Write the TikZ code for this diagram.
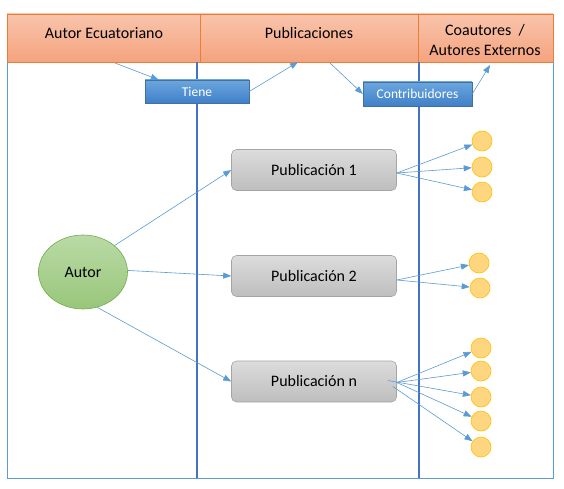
\documentclass[tikz,border=0pt]{standalone}
\usepackage{fontspec}
\setmainfont{Carlito}
\usetikzlibrary{arrows.meta,shapes.geometric,calc}
\definecolor{hdrTop}{RGB}{249,196,172}
\definecolor{hdrBot}{RGB}{244,163,126}
\definecolor{hdrLine}{RGB}{237,125,49}
\definecolor{laneLine}{RGB}{68,114,196}
\definecolor{frameLine}{RGB}{91,155,213}
\definecolor{arrowCol}{RGB}{91,155,213}
\definecolor{tagTop}{RGB}{107,166,222}
\definecolor{tagBot}{RGB}{64,128,200}
\definecolor{tagLine}{RGB}{65,113,156}
\definecolor{pubTop}{RGB}{220,220,220}
\definecolor{pubBot}{RGB}{190,190,190}
\definecolor{pubLine}{RGB}{165,165,165}
\definecolor{autTop}{RGB}{186,218,166}
\definecolor{autBot}{RGB}{152,198,122}
\definecolor{autLine}{RGB}{112,173,71}
\definecolor{circFill}{RGB}{255,214,128}
\definecolor{circLine}{RGB}{255,192,0}
\tikzset{
  hdrtext/.style={font=\fontsize{16}{20}\selectfont, align=center, text=black},
  tagbox/.style={draw=tagLine, line width=0.4pt, top color=tagTop, bottom color=tagBot, text=white, font=\fontsize{13.5}{16}\selectfont, inner sep=0pt},
  pubbox/.style={draw=pubLine, line width=0.6pt, rounded corners=5pt, top color=pubTop, bottom color=pubBot, minimum width=165pt, minimum height=41pt, font=\fontsize{16}{19}\selectfont, inner sep=0pt},
  autnode/.style={ellipse, draw=autLine, line width=0.6pt, top color=autTop, bottom color=autBot, minimum width=89pt, minimum height=74pt, font=\fontsize{16}{19}\selectfont, inner sep=0pt},
  coauth/.style={circle, draw=circLine, line width=0.6pt, fill=circFill, minimum size=20pt, inner sep=0pt},
  link/.style={draw=arrowCol, line width=0.6pt, -{Triangle[length=8pt,width=6pt]}},
}
\begin{document}
\begin{tikzpicture}[x=1pt,y=-1pt]
\useasboundingbox (0,0) rectangle (564,489);
\fill[white] (0,0) rectangle (564,489);
% header band
\shade[top color=hdrTop, bottom color=hdrBot] (7,14) rectangle (553,62);
\draw[hdrLine, line width=0.8pt] (7,14) rectangle (553,62);
\draw[hdrLine, line width=0.8pt] (200,14) -- (200,62);
\draw[hdrLine, line width=0.8pt] (418,14) -- (418,62);
\node[hdrtext] (h1) at (104,33) {Autor Ecuatoriano};
\node[hdrtext] (h2) at (309,33) {Publicaciones};
\node[hdrtext] (h3) at (485,40) {Coautores \ /\\Autores Externos};
% lanes
\draw[frameLine, line width=0.8pt] (7,62) -- (7,478) -- (553,478) -- (553,62);
\draw[laneLine, line width=1.4pt] (197,62) -- (197,478);
\draw[laneLine, line width=1.4pt] (419,62) -- (419,478);
% tags
\node[tagbox, minimum width=104pt, minimum height=23pt] (tiene) at (197,91.5) {Tiene};
\node[tagbox, minimum width=109pt, minimum height=24pt] (contrib) at (417.5,94) {Contribuidores};
\coordinate (a1) at (115,63);
\coordinate (a2) at (298,62);
\coordinate (a3) at (330,63);
\coordinate (a4) at (490,65);
\draw[link] (a1) -- (tiene.163);
\draw[link] (tiene.east) -- (a2);
\draw[link] (a3) -- (contrib.west);
\draw[link] (contrib.east) -- (a4);
% publications
\node[pubbox] (pub1) at (314,170) {Publicación 1};
\node[pubbox] (pub2) at (314,276) {Publicación 2};
\node[pubbox] (pubn) at (314,381.5) {Publicación n};
% author
\node[autnode] (autor) at (83,272) {Autor};
\draw[link] (autor.40) -- (pub1.west);
\draw[link] (autor.2) -- (pub2.west);
\draw[link] (autor.-68) -- (pubn.west);
% co-authors
\node[coauth] (c11) at (482,141) {};
\node[coauth] (c12) at (482,167) {};
\node[coauth] (c13) at (482,192) {};
\node[coauth] (c21) at (479,263) {};
\node[coauth] (c22) at (480,288) {};
\node[coauth] (cn1) at (481,348) {};
\node[coauth] (cn2) at (481,371) {};
\node[coauth] (cn3) at (481,397) {};
\node[coauth] (cn4) at (481,421) {};
\node[coauth] (cn5) at (481,447) {};
\coordinate (p1) at ($(pub1.east)+(0,3)$);
\draw[link] (p1) -- (c11);
\draw[link] (p1) -- (c12);
\draw[link] (p1) -- (c13);
\coordinate (p2) at ($(pub2.east)+(0,4)$);
\draw[link] (p2) -- (c21);
\draw[link] (p2) -- (c22);
\coordinate (pn) at ($(pubn.east)+(0,1)$);
\coordinate (pnb) at ($(pubn.east)+(-9,-1)$);
\coordinate (pnc) at ($(pubn.east)+(-4,5)$);
\draw[link] (pn) -- (cn1);
\draw[link] (pn) -- (cn2);
\draw[link] (pnb) -- (cn3);
\draw[link] (pn) -- (cn4);
\draw[link] (pnc) -- (cn5);
\end{tikzpicture}
\end{document}
